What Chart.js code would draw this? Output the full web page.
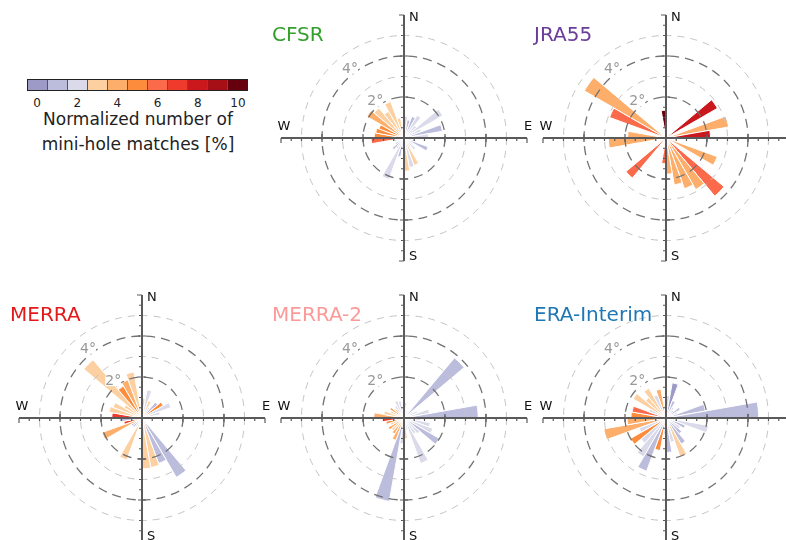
<!DOCTYPE html>
<html>
<head>
<meta charset="utf-8">
<script src="https://cdn.jsdelivr.net/npm/chart.js@4.4.1/dist/chart.umd.min.js"></script>
<style>
  html, body { margin: 0; padding: 0; width: 786px; height: 540px; overflow: hidden; background: #fff; }
  body { position: relative; font-family: "DejaVu Sans", sans-serif; color: #222; }
  .panel { position: absolute; width: 270px; height: 270px; }
  .title { position: absolute; font-size: 20px; line-height: 20px; white-space: nowrap; }
  #cbar { position: absolute; left: 27px; top: 79px; width: 221px; height: 12px; display: flex; border: 1px solid #222; box-sizing: border-box; }
  #cbar div { flex: 1; border-right: 1px solid #555; }
  #cbar div:last-child { border-right: none; }
  .cbtick { position: absolute; top: 97px; font-size: 12px; line-height: 12px; width: 30px; margin-left: -15px; text-align: center; }
  #cbcap { position: absolute; left: 18px; top: 107px; width: 240px; font-size: 17px; line-height: 25px; text-align: center; }
</style>
</head>
<body>
<div id="cbar"></div>
<div id="cbcap">Normalized number of<br>mini-hole matches [%]</div>

<script>
// 10 degree direction sectors, clockwise from north
const binLabels = ['0°','10°','20°','30°','40°','50°','60°','70°','80°','90°','100°','110°',
                   '120°','130°','140°','150°','160°','170°','180°','190°','200°','210°','220°','230°',
                   '240°','250°','260°','270°','280°','290°','300°','310°','320°','330°','340°','350°'];

// discrete colour levels 0..10 %
const levelColors = ['#9e9ac8','#bcbddc','#dadaeb','#fdd0a2','#fdae6b','#fd8d3c',
                     '#fb6a4a','#ef3b2c','#cb181d','#a50f15','#67000d'];
const cbarTicks = [0, 2, 4, 6, 8, 10];

// distance in degrees per sector, and normalized match level per sector
const cfsrDist = [1.06,0.9,1.12,1.28,0.8,2.18,0.9,1.9,1.2,0.5,0.6,1.25,0.5,0.75,0.5,1.42,1.46,1.62,
                  0.6,0.93,2.15,0.6,0.75,0.5,0.4,0.5,1.6,1.45,1.4,1.3,2.09,1.9,1.5,1.89,1.0,0.4];
const cfsrPct  = [2,1,1,2,2,2,2,1,2,2,1,1,2,2,2,3,2,3,1,1,2,2,1,1,2,1,6,5,5,5,4,3,3,3,3,2];

const jra55Dist = [0,0,0,0,0,2.9,0,3.1,2.17,0,0,2.66,0,3.7,2.9,2.63,2.32,1.76,
                   1.25,0,0,0,2.55,0,0,0,2.81,1.87,0,2.93,4.6,0,0,0,0,1.35];
const jra55Pct  = [0,0,0,0,0,8,0,4,8,0,0,4,0,6,4,4,4,4,6,0,0,0,6,0,0,0,4,4,0,6,4,0,0,0,0,10];

const merraDist = [0.95,1.39,0.9,0.6,1.0,1.2,1.5,0.9,0,0,0.3,0,0,0,3.34,2.36,2.45,2.48,
                   0.3,0.4,2.18,0.5,0.6,0.6,2.08,0.9,1.1,1.47,1.63,1.5,1.0,3.71,1.8,1.98,2.28,0.5];
const merraPct  = [3,2,3,2,1,5,2,2,0,0,2,0,0,0,1,1,3,3,2,2,3,2,1,1,4,7,1,7,3,3,3,3,5,4,3,3];

const merra2Dist = [0.75,0.4,0.3,0.4,3.83,0.5,0.7,1.25,3.62,0.8,1.3,1.5,2.0,1.0,0.9,2.36,0.6,1.0,
                    1.25,4.13,1.16,0.9,0.8,0.9,0.7,0.9,1.05,1.47,1.0,0.7,0.8,0.6,0.7,0.9,0.85,0.5];
const merra2Pct  = [3,2,2,2,1,2,2,2,1,2,2,2,1,2,2,2,2,3,2,1,4,4,3,4,3,5,7,4,3,3,4,3,2,2,2,2];

const eraiDist = [1.1,1.74,0.9,0.6,0.5,0.8,0.6,1.95,4.52,0.6,2.1,1.0,0.8,1.0,1.47,2.03,1.2,1.68,
                  0.8,1.61,2.76,2.19,1.6,2.0,1.4,3.08,1.9,1.71,1.68,0.9,1.85,1.3,1.67,1.2,1.43,0.6];
const eraiPct  = [2,0,1,2,2,1,2,1,1,2,2,1,2,1,1,3,2,1,2,5,1,2,2,5,2,4,4,5,6,2,3,3,3,2,4,2];

const axisMax = 6;
const ringLevels = [2, 3, 4, 5];
const ringLabels = [2, 4];

const panels = [
  { name: 'CFSR',        color: '#33a02c', cx: 404, cy: 138, dist: cfsrDist,   pct: cfsrPct },
  { name: 'JRA55',       color: '#6a3d9a', cx: 666, cy: 138, dist: jra55Dist,  pct: jra55Pct },
  { name: 'MERRA',       color: '#e31a1c', cx: 142, cy: 418, dist: merraDist,  pct: merraPct },
  { name: 'MERRA-2',     color: '#fb9a99', cx: 404, cy: 418, dist: merra2Dist, pct: merra2Pct },
  { name: 'ERA-Interim', color: '#1f78b4', cx: 666, cy: 418, dist: eraiDist,   pct: eraiPct }
];

// colorbar
const cbar = document.getElementById('cbar');
levelColors.forEach(c => {
  const cell = document.createElement('div');
  cell.style.background = c;
  cbar.appendChild(cell);
});
cbarTicks.forEach(t => {
  const lab = document.createElement('div');
  lab.className = 'cbtick';
  lab.style.left = (27 + (t + 0.5) * 221 / levelColors.length) + 'px';
  lab.textContent = t;
  document.body.appendChild(lab);
});

// rings, crossing axes, ticks and compass letters drawn over the bars
const compassAxes = {
  id: 'compassAxes',
  afterDatasetsDraw(chart) {
    const r = chart.scales.r;
    const ctx = chart.ctx;
    const cx = r.xCenter, cy = r.yCenter;
    const d = v => r.getDistanceFromCenterForValue(v);
    ctx.save();

    ringLevels.forEach(v => {
      const dark = v % 2 === 0;
      ctx.beginPath();
      ctx.setLineDash(dark ? [9, 6] : [7, 6]);
      ctx.strokeStyle = dark ? '#727272' : '#c4c4c4';
      ctx.lineWidth = dark ? 1.3 : 1;
      ctx.arc(cx, cy, d(v), 0, Math.PI * 2);
      ctx.stroke();
    });
    ctx.setLineDash([]);

    const R = d(axisMax);
    ctx.strokeStyle = '#5a5a5a';
    ctx.lineWidth = 2;
    ctx.beginPath();
    ctx.moveTo(cx - R, cy); ctx.lineTo(cx + R, cy);
    ctx.moveTo(cx, cy - R); ctx.lineTo(cx, cy + R);
    ctx.stroke();

    ctx.lineWidth = 1.2;
    ctx.beginPath();
    for (let v = -axisMax; v <= axisMax; v += 0.5) {
      if (v === 0) continue;
      const p = Math.sign(v) * d(Math.abs(v));
      if (Math.abs(v) === 2 || Math.abs(v) === 4) {
        ctx.moveTo(cx + p, cy - 4); ctx.lineTo(cx + p, cy + 4);
        ctx.moveTo(cx - 4, cy + p); ctx.lineTo(cx + 4, cy + p);
      } else {
        const len = Math.abs(v) === axisMax ? 5 : 3;
        ctx.moveTo(cx + p, cy); ctx.lineTo(cx + p, cy + len);
        ctx.moveTo(cx, cy + p); ctx.lineTo(cx - len, cy + p);
      }
    }
    ctx.stroke();

    ctx.fillStyle = '#111';
    ctx.font = '13px "DejaVu Sans"';
    ctx.textBaseline = 'middle';
    ctx.textAlign = 'left';
    ctx.fillText('N', cx + 5, cy - R + 3);
    ctx.fillText('S', cx + 5, cy + R - 4);
    ctx.textAlign = 'center';
    ctx.fillText('W', cx - R + 3, cy - 11);
    ctx.fillText('E', cx + R + 1, cy - 11);

    ctx.font = '14px "DejaVu Sans"';
    const a = -38 * Math.PI / 180;
    ringLabels.forEach(v => {
      const rr = d(v + 0.28);
      const x = cx + rr * Math.sin(a), y = cy - rr * Math.cos(a);
      const txt = v + '°';
      const w = ctx.measureText(txt).width;
      ctx.fillStyle = '#fff';
      ctx.fillRect(x - w / 2, y - 5, w, 10);
      ctx.fillStyle = '#999';
      ctx.fillText(txt, x, y);
    });
    ctx.restore();
  }
};

panels.forEach(p => {
  const canvas = document.createElement('canvas');
  canvas.className = 'panel';
  canvas.width = 270;
  canvas.height = 270;
  canvas.style.left = (p.cx - 135) + 'px';
  canvas.style.top = (p.cy - 135) + 'px';
  document.body.appendChild(canvas);

  const title = document.createElement('div');
  title.className = 'title';
  title.style.left = (p.cx - 132) + 'px';
  title.style.top = (p.cy - 114) + 'px';
  title.style.color = p.color;
  title.textContent = p.name;
  document.body.appendChild(title);

  new Chart(canvas, {
    type: 'polarArea',
    data: {
      labels: binLabels,
      datasets: [{
        data: p.dist,
        backgroundColor: p.pct.map(v => levelColors[v]),
        borderColor: '#fff',
        borderWidth: 1
      }]
    },
    options: {
      responsive: false,
      animation: false,
      layout: { padding: 12 },
      plugins: { legend: { display: false }, tooltip: { enabled: false } },
      scales: {
        r: {
          min: 0,
          max: axisMax,
          startAngle: 0,
          ticks: { display: false },
          grid: { display: false },
          angleLines: { display: false },
          pointLabels: { display: false }
        }
      }
    },
    plugins: [compassAxes]
  });
});
</script>
</body>
</html>
